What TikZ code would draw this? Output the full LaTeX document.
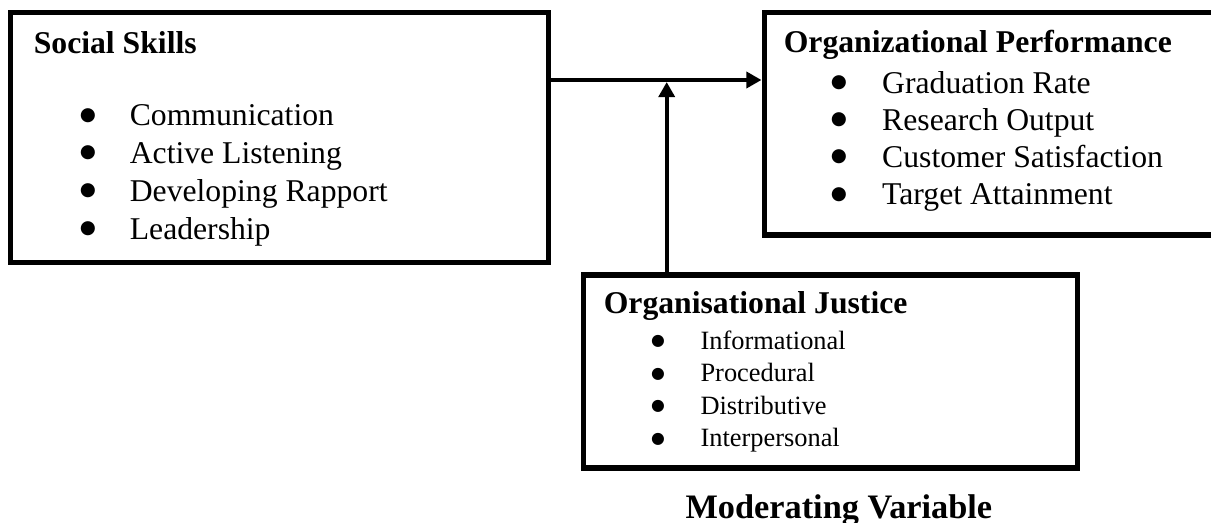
\documentclass[tikz,border=0pt]{standalone}
\usepackage{fontspec}
\setmainfont{Liberation Serif}
\newfontfamily\bulfont{DejaVu Sans}
\usetikzlibrary{arrows.meta,fit}
\begin{document}
\begin{tikzpicture}[x=0.3788pt,y=-0.3788pt,
  box/.style={draw, line width=1.9pt, inner sep=0pt, rectangle},
  conn/.style={line width=1.5pt, -{Triangle[length=5.7pt,width=6pt]}},
  head/.style={font=\fontsize{12}{14}\selectfont\bfseries, inner sep=0pt, anchor=base west},
  item/.style={font=\fontsize{12}{14}\selectfont, inner sep=0pt, anchor=base west},
  smallitem/.style={font=\fontsize{10}{12}\selectfont, inner sep=0pt, anchor=base west},
  bigbul/.style={font=\bulfont\fontsize{7}{8}\selectfont, inner sep=0pt, anchor=center},
  smallbul/.style={font=\bulfont\fontsize{6}{7}\selectfont, inner sep=0pt, anchor=center},
  modlabel/.style={font=\fontsize{13}{15}\selectfont\bfseries, inner sep=0pt, anchor=base west}]
\useasboundingbox (0,0) rectangle (1211,523);
\clip (0,0) rectangle (1211,523);
% boxes
\node[box, fit={(10.5,12.5) (548.5,262.5)}] (ss) {};
\node[box, fit={(764,12.5) (1240,235)}] (op) {};
\node[box, fit={(583,275) (1077,468)}] (oj) {};
% Social Skills
\node[head] (ssh) at (33.3,53.3) {Social Skills};
\foreach \t [count=\i] in {Communication, Active Listening, Developing Rapport, Leadership} {
  \node[item] (ssi\i) at (129.3,{126+37.7*(\i-1)}) {\t};
  \node[bigbul] (ssb\i) at (88,{126+37.7*(\i-1)-10.5}) {●};
}
% Organizational Performance
\node[head] (oph) at (783.3,52.7) {Organizational Performance};
\foreach \t [count=\i] in {Graduation Rate, Research Output, Customer Satisfaction, Target Attainment} {
  \node[item] (opi\i) at (881.7,{93.3+37.2*(\i-1)}) {\t};
  \node[bigbul] (opb\i) at (839,{93.3+37.2*(\i-1)-10.5}) {●};
}
% Organisational Justice
\node[head] (ojh) at (603.3,314) {Organisational Justice};
\foreach \t [count=\i] in {Informational, Procedural, Distributive, Interpersonal} {
  \node[smallitem] (oji\i) at (700,{349.3+32.5*(\i-1)}) {\t};
  \node[smallbul] (ojb\i) at (658,{349.3+32.5*(\i-1)-7.5}) {●};
}
\node[modlabel] (mod) at (685,518) {Moderating Variable};
% connectors
\coordinate (mid) at (666.7,82);
\draw[conn] (ss.east |- 0,80) -- (op.west |- 0,80);
\draw[conn] (oj.north -| mid) -- (mid);
\end{tikzpicture}
\end{document}
